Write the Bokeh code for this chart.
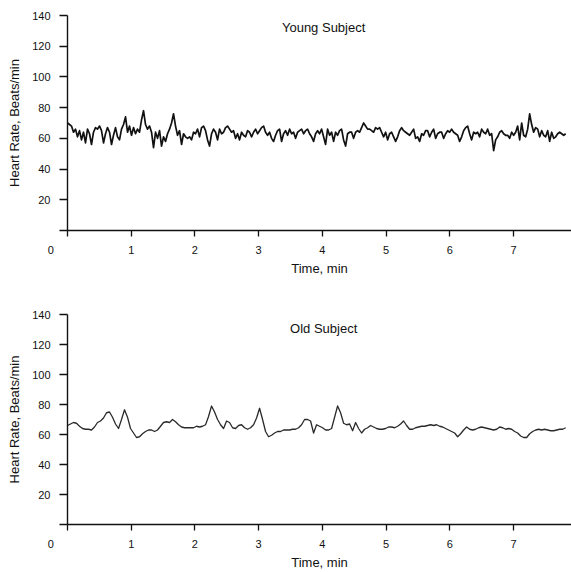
from bokeh.plotting import figure
from bokeh.models import Label, Range1d, FixedTicker
from bokeh.layouts import column
from bokeh.embed import file_html
from bokeh.resources import INLINE

# ---------------- data ----------------
young_dt = 0.0314   # minutes between samples
young_hr = [
    70, 69, 68, 64, 66, 61, 65, 59, 64, 57,
    66, 63, 56, 64, 67, 66, 68, 65, 57, 63,
    67, 64, 56, 62, 67, 61, 59, 66, 69, 74,
    64, 68, 62, 67, 63, 66, 64, 72, 78, 69,
    66, 68, 64, 54, 64, 60, 65, 55, 61, 58,
    63, 66, 70, 76, 68, 62, 65, 56, 63, 61,
    60, 61, 59, 64, 63, 66, 61, 67, 68, 65,
    59, 55, 63, 66, 64, 59, 66, 63, 64, 67,
    68, 66, 64, 65, 60, 63, 59, 64, 62, 61,
    65, 64, 61, 64, 66, 63, 65, 67, 68, 64,
    62, 64, 60, 58, 62, 65, 66, 58, 63, 65,
    62, 66, 63, 64, 60, 64, 65, 66, 63, 65,
    66, 63, 61, 58, 63,
    65, 63, 66, 61, 56, 66, 62, 64, 58, 64,
    62, 65, 66, 59, 55, 63, 64, 64, 60, 64,
    65, 64, 67, 70, 68, 66, 66, 65, 64, 67,
    66, 67, 64, 61, 64, 59, 63, 64, 61, 58,
    61, 65, 67, 65, 64, 63, 62, 64, 66, 60,
    61, 58, 63, 62, 65, 65, 61, 64, 66, 60,
    63, 64,
    64, 60, 63, 65, 64, 66, 64, 63, 62, 58,
    61, 65, 67, 68, 63, 59, 64, 63, 64, 61,
    66, 64, 63, 66, 62, 63, 52, 59, 61, 64,
    65, 63, 62, 62, 60, 64, 62, 64, 68, 59,
    70, 62, 61, 66, 76, 69, 64, 67, 66, 61,
    65, 62, 61, 65, 58, 64, 60, 61, 63, 64,
    63, 62, 63,
]

old_dt = 0.0471     # minutes between samples
old_hr = [
    66, 67, 68, 67.5, 65.5, 64, 63.5, 63.5, 63, 65,
    68, 69, 71, 74.5, 75, 71.5, 67, 64, 70, 76.5,
    71.5, 64, 61, 58, 58.5, 60.5, 62, 63, 63, 62,
    63, 65.5, 68, 68.5, 68, 70, 68.5, 66.5, 65, 64.5,
    64.5, 64.5, 64.5, 65.5, 65, 65.5, 66.5, 72, 79, 75,
    70, 66.5, 64, 69, 68, 64.5, 64, 66, 66.5, 64.5,
    63.5, 64.5, 66.5, 71, 77.5, 70, 62, 58.5, 59.5, 61,
    62, 62, 63, 63, 63, 63.5, 63.5, 64.5, 66.5, 70,
    70, 69, 61, 66.5, 65.5, 64.5, 63, 63, 64, 71.5,
    79, 74.5, 67.5, 66.5, 67, 62.5, 68, 64, 61, 63.5,
    64.5, 66, 65, 64, 63.5, 63.5, 64, 65, 65, 64.5,
    65.5, 67, 69, 66, 63.5, 63.5, 64.5, 65, 65.5, 65.5,
    66, 66.5, 66, 66.5, 65.5, 65, 64, 63, 62, 61,
    58.5, 60.5, 63, 65, 63.5, 63, 63.5, 64.5, 65, 64.5,
    64, 63.5, 63, 63.5, 65, 64.5, 63.5, 64, 63.5, 62,
    61, 59, 58, 58, 60.5, 62, 63, 63.5, 63, 63.5,
    63, 62.5, 62.5, 63, 63.5, 63.5, 64.5,
]

x_ticks = [0, 1, 2, 3, 4, 5, 6, 7]
y_ticks = [0, 20, 40, 60, 80, 100, 120, 140]
x_label = "Time, min"
y_label = "Heart Rate, Beats/min"
titles = ["Young Subject", "Old Subject"]
origin_label = "0"

FONT = "Liberation Sans"
NBSP = "\u00a0"


def panel(hr, dt, title, title_y, height, top, bottom, color, lw):
    t = [i * dt for i in range(len(hr))]
    p = figure(width=571, height=height,
               x_range=Range1d(0, 7.91), y_range=Range1d(0, 140),
               output_backend="svg", toolbar_location=None,
               min_border_left=67, min_border_right=0,
               min_border_top=top, min_border_bottom=bottom)
    p.line(t, hr, line_color=color, line_width=lw, line_join="round")
    p.xgrid.visible = False
    p.ygrid.visible = False
    p.outline_line_color = None
    p.background_fill_color = "white"
    p.border_fill_color = "white"

    xa = p.xaxis[0]
    xa.ticker = FixedTicker(ticks=x_ticks)
    # the corner "0" sits left of the origin: pad it with no-break spaces
    xa.major_label_overrides = {0: origin_label + NBSP * 11}
    xa.axis_label = x_label
    ya = p.yaxis[0]
    ya.ticker = FixedTicker(ticks=y_ticks)
    ya.major_label_overrides = {0: ""}
    ya.axis_label = y_label
    for ax, tout in ((xa, 6), (ya, 8)):
        ax.major_tick_in = 0
        ax.major_tick_out = tout
        ax.minor_tick_line_color = None
        ax.axis_line_color = "#111111"
        ax.axis_line_width = 1.4
        ax.major_tick_line_color = "#111111"
        ax.major_tick_line_width = 1.3
        ax.major_label_text_font = FONT
        ax.major_label_text_font_size = "11px"
        ax.major_label_text_color = "#111111"
        ax.axis_label_text_font = FONT
        ax.axis_label_text_font_size = "13px"
        ax.axis_label_text_font_style = "normal"
        ax.axis_label_text_color = "#111111"
    xa.major_label_standoff = 7
    xa.axis_label_standoff = 2
    ya.major_label_standoff = 9
    ya.axis_label_standoff = 7

    p.add_layout(Label(x=4.02, y=title_y, text=title, text_align="center",
                       text_baseline="middle", text_font=FONT,
                       text_font_size="13px", text_color="#111111"))
    return p


p1 = panel(young_hr, young_dt, titles[0], 132, 291, 15, 61, "#111111", 1.7)
p2 = panel(old_hr, old_dt, titles[1], 131, 281, 23, 48, "#2a2a2a", 1.3)
layout = column(p1, p2, spacing=0)

open("out.html", "w").write(file_html(layout, INLINE))
